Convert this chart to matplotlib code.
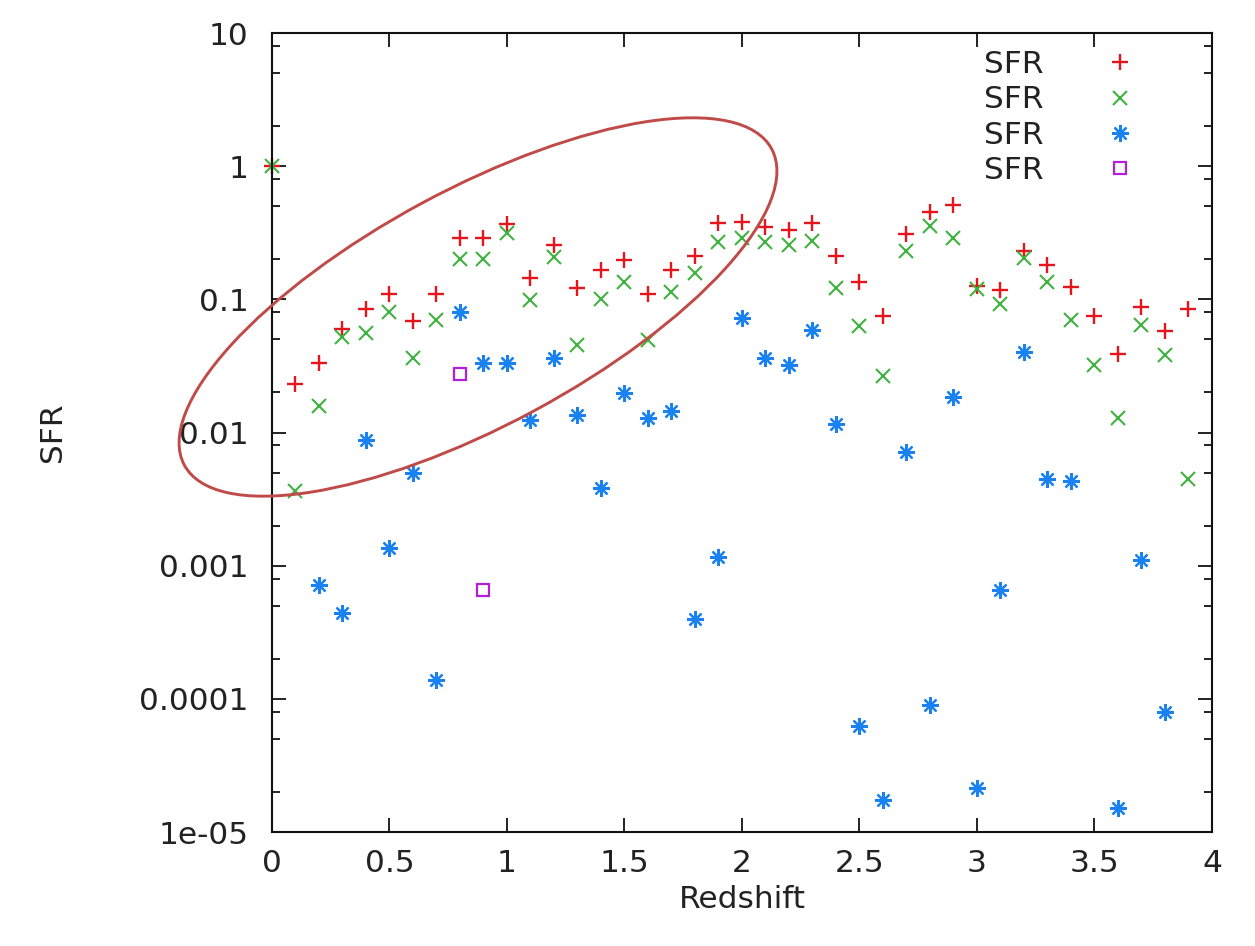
import numpy as np
import matplotlib
matplotlib.use('Agg')
from matplotlib import pyplot as plt, ticker
from matplotlib.patches import Ellipse

# redshift grid shared by the series
z_red = [0.0, 0.1, 0.2, 0.3, 0.4, 0.5, 0.6, 0.7, 0.8, 0.9, 1.0, 1.1, 1.2, 1.3,
         1.4, 1.5, 1.6, 1.7, 1.8, 1.9, 2.0, 2.1, 2.2, 2.3, 2.4, 2.5, 2.6, 2.7,
         2.8, 2.9, 3.0, 3.1, 3.2, 3.3, 3.4, 3.5, 3.6, 3.7, 3.8, 3.9]
sfr_red = [1.0, 0.023, 0.033, 0.06, 0.085, 0.11, 0.069, 0.11, 0.29, 0.29,
           0.37, 0.145, 0.256, 0.122, 0.166, 0.198, 0.11, 0.165, 0.21, 0.375,
           0.38, 0.35, 0.33, 0.375, 0.21, 0.135, 0.075, 0.31, 0.45, 0.51,
           0.126, 0.117, 0.23, 0.18, 0.123, 0.075, 0.039, 0.088, 0.058, 0.084]

z_green = z_red
sfr_green = [1.0, 0.00365, 0.0158, 0.052, 0.056, 0.08, 0.036, 0.07, 0.2, 0.2,
             0.315, 0.099, 0.208, 0.0455, 0.1, 0.135, 0.0495, 0.114, 0.158, 0.27,
             0.29, 0.27, 0.256, 0.275, 0.122, 0.063, 0.0266, 0.23, 0.355, 0.29,
             0.12, 0.092, 0.205, 0.135, 0.07, 0.032, 0.0129, 0.064, 0.038, 0.0045]

z_blue = [0.2, 0.3, 0.4, 0.5, 0.6, 0.7, 0.8, 0.9, 1.0, 1.1, 1.2, 1.3, 1.4, 1.5,
          1.6, 1.7, 1.8, 1.9, 2.0, 2.1, 2.2, 2.3, 2.4, 2.5, 2.6, 2.7, 2.8, 2.9,
          3.0, 3.1, 3.2, 3.3, 3.4, 3.6, 3.7, 3.8]
sfr_blue = [0.00072, 0.00044, 0.0088, 0.00136, 0.005, 0.000139, 0.08, 0.0333,
            0.0333, 0.0124, 0.036, 0.0136, 0.0038, 0.0198, 0.0129, 0.0145,
            0.0004, 0.00116, 0.0724, 0.036, 0.032, 0.059, 0.0116, 6.3e-5,
            1.75e-5, 0.0071, 9.0e-5, 0.0185, 2.15e-5, 0.00066, 0.04, 0.0045,
            0.0043, 1.52e-5, 0.0011, 7.9e-5]

z_purple = [0.8, 0.9]
sfr_purple = [0.0275, 0.00066]

ytick_vals = [1e-5, 1e-4, 1e-3, 1e-2, 1e-1, 1, 10]
ytick_labels = ['1e-05', '0.0001', '0.001', '0.01', '0.1', '1', '10']
xtick_vals = [0, 0.5, 1, 1.5, 2, 2.5, 3, 3.5, 4]
xtick_labels = ['0', '0.5', '1', '1.5', '2', '2.5', '3', '3.5', '4']

plt.rcParams['font.family'] = ['DejaVu Sans']
txt = '#222222'
fs = 22.5

fig = plt.figure(figsize=(12.55, 9.46), dpi=100)
ax = fig.add_axes([0.2167, 0.1205, 0.749, 0.8446])

# gnuplot doesn't clip points at the border, so neither do we
ax.plot(z_red, sfr_red, ls='none', marker='+', ms=12, mew=1.7, color='#e8141c', label='SFR', clip_on=False)
ax.plot(z_green, sfr_green, ls='none', marker='x', ms=10, mew=1.5, color='#3fb23f', label='SFR', clip_on=False)
ax.plot(z_blue, sfr_blue, ls='none', marker=(8, 2, 0), ms=12, mew=1.6, color='#1a82f0', label='SFR', clip_on=False)
ax.plot(z_purple, sfr_purple, ls='none', marker='s', ms=9, mew=1.6, mfc='none', color='#b020d8', label='SFR', clip_on=False)

ax.set_yscale('log')
ax.set_xlim(0, 4)
ax.set_ylim(1e-5, 10)
ax.set_xticks(xtick_vals)
ax.set_xticklabels(xtick_labels)
ax.set_yticks(ytick_vals)
ax.set_yticklabels(ytick_labels)
ax.yaxis.set_minor_locator(ticker.LogLocator(base=10, subs=[2, 5, 8]))
ax.yaxis.set_minor_formatter(ticker.NullFormatter())

ax.tick_params(which='both', direction='in', top=True, right=True, colors='#111111',
               labelcolor=txt, labelsize=fs, width=1.3)
ax.tick_params(which='major', length=10)
ax.tick_params(which='minor', length=6)
ax.tick_params(axis='x', pad=12)
ax.tick_params(axis='y', pad=17)
for s in ax.spines.values():
    s.set_linewidth(1.5)
    s.set_color('#111111')

ax.set_xlabel('Redshift', fontsize=fs, color=txt, labelpad=5)
ax.set_ylabel('SFR', fontsize=fs, color=txt, labelpad=52)

leg = ax.legend(loc='upper right', bbox_to_anchor=(0.96, 1.0), frameon=False,
                markerfirst=False, fontsize=fs, handlelength=2.4, handletextpad=1.25,
                labelspacing=0.2, borderaxespad=0.15, labelcolor=txt)

# hand-drawn highlight ellipse, placed in figure pixels
ell = Ellipse((478, 946 - 307), 667, 236, angle=28.3, fill=False,
              edgecolor='#bf4a47', linewidth=2.1, transform=None, zorder=10)
fig.patches.append(ell)

fig.savefig('out.png', dpi=100)
